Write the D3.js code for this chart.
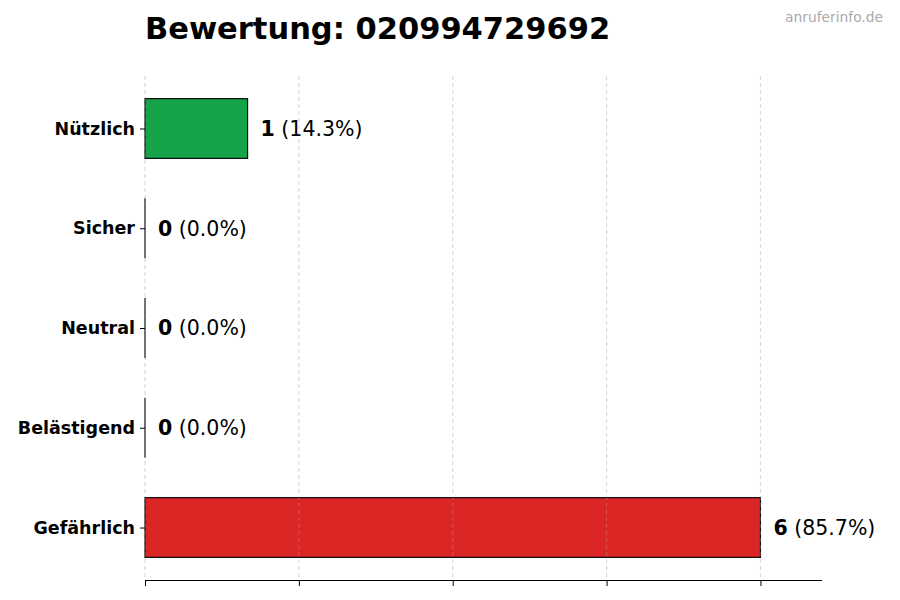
<!DOCTYPE html>
<html>
<head>
<meta charset="utf-8">
<script src="https://cdn.jsdelivr.net/npm/d3@7"></script>
<style>
  body { margin: 0; background: #fff; }
  svg { font-family: "DejaVu Sans", sans-serif; }
</style>
</head>
<body>
<svg id="chart" width="900" height="600"></svg>
<script>
const categories = ["Nützlich", "Sicher", "Neutral", "Belästigend", "Gefährlich"];
const counts = [1, 0, 0, 0, 6];
const percents = ["14.3%", "0.0%", "0.0%", "0.0%", "85.7%"];
const barColors = ["#16a34a", "#9ca3af", "#6b7280", "#f59e0b", "#dc2626"];
const xTicks = [0, 1.5, 3, 4.5, 6];
const titleText = "Bewertung: 020994729692";
const watermark = "anruferinfo.de";

(function () {
const svg = d3.select("#chart");
const mLeft = 145, mRight = 822, mTop = 76, mBottom = 580;

const x = d3.scaleLinear().domain([0, d3.max(counts) * 1.1]).range([mLeft, mRight]);
const y = d3.scalePoint().domain(categories).range([mTop, mBottom]).padding(0.526);
const step = y.step();
const barH = step * 0.6;

// grid
svg.append("g").selectAll("line").data(xTicks).join("line")
  .attr("x1", d => x(d)).attr("x2", d => x(d))
  .attr("y1", mTop).attr("y2", mBottom)
  .attr("stroke", "#d0d0d0").attr("stroke-width", 0.8)
  .attr("stroke-dasharray", "4,3");

// bars (paths so zero-width bars still show their edge)
svg.append("g").selectAll("path").data(categories).join("path")
  .attr("d", (d, i) => {
    const x0 = x(0), x1 = x(counts[i]);
    const y0 = y(d) - barH / 2, y1 = y(d) + barH / 2;
    return `M${x0},${y0}H${x1}V${y1}H${x0}Z`;
  })
  .attr("fill", (d, i) => barColors[i])
  .attr("stroke", "#111")
  .attr("stroke-width", 1.2);

// faint grid over bars
svg.append("g").selectAll("line").data(xTicks).join("line")
  .attr("x1", d => x(d)).attr("x2", d => x(d))
  .attr("y1", mTop).attr("y2", mBottom)
  .attr("stroke", "#d0d0d0").attr("stroke-opacity", 0.35).attr("stroke-width", 0.8)
  .attr("stroke-dasharray", "4,3");

// value labels
const lab = svg.append("g").selectAll("text").data(categories).join("text")
  .attr("x", (d, i) => x(counts[i]) + 13)
  .attr("y", d => y(d))
  .attr("dy", "0.36em")
  .attr("font-size", 20.5)
  .attr("fill", "#000");
lab.append("tspan").attr("font-weight", "bold").text((d, i) => counts[i]);
lab.append("tspan").text((d, i) => " (" + percents[i] + ")");

// y axis (ticks + labels, no spine)
const yAxis = svg.append("g").attr("transform", `translate(${mLeft},0)`)
  .call(d3.axisLeft(y).tickSize(5).tickPadding(5));
yAxis.select(".domain").remove();
yAxis.selectAll("text").attr("font-size", 17.5).attr("font-weight", "bold")
  .attr("font-family", "DejaVu Sans").attr("fill", "#000");
yAxis.selectAll("line").attr("stroke", "#000");

// x axis (no labels)
const xAxis = svg.append("g").attr("transform", `translate(0,${mBottom})`)
  .call(d3.axisBottom(x).tickValues(xTicks).tickSize(6).tickFormat(""));
xAxis.select(".domain").attr("d", `M${mLeft},0.5H${mRight}`).attr("stroke", "#000");
xAxis.selectAll("line").attr("stroke", "#000");

// title
svg.append("text").attr("x", mLeft).attr("y", 39)
  .attr("font-size", 30.5).attr("font-weight", "bold").attr("fill", "#000")
  .text(titleText);

svg.append("text").attr("x", 883).attr("y", 22)
  .attr("text-anchor", "end").attr("font-size", 13.8).attr("fill", "#aaaaaa")
  .text(watermark);
})();
</script>
</body>
</html>
